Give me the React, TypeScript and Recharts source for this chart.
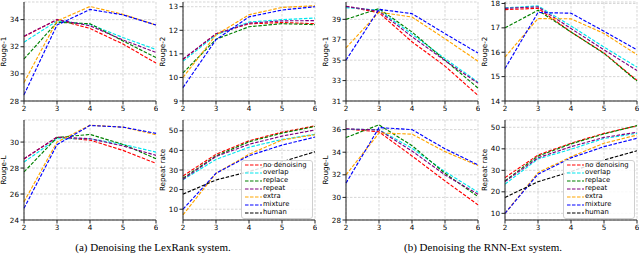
import React from 'react';
import { LineChart, Line, XAxis, YAxis, CartesianGrid, Legend } from 'recharts';

const xs = [2, 3, 4, 5, 6];
const seriesNames = ['no denoising', 'overlap', 'replace', 'repeat', 'extra', 'mixture', 'human'];
const seriesColors = ['#ff0000', '#00e5ee', '#008000', '#800080', '#ffa500', '#0000ff', '#000000'];

// rows ordered as seriesNames
const lexRouge1 = [
  [32.75, 34.0, 33.35, 32.2, 30.8],
  [32.34, 33.9, 33.65, 32.68, 31.8],
  [31.1, 33.8, 33.7, 32.43, 31.2],
  [32.78, 34.0, 33.55, 32.5, 31.58],
  [29.36, 33.9, 34.97, 34.39, 33.6],
  [28.46, 33.6, 34.75, 34.35, 33.6],
];
const lexRouge2 = [
  [10.76, 11.85, 12.27, 12.33, 12.28],
  [10.69, 11.8, 12.35, 12.45, 12.52],
  [10.19, 11.62, 12.15, 12.28, 12.24],
  [10.78, 11.85, 12.3, 12.4, 12.41],
  [10.0, 11.8, 12.66, 12.97, 13.04],
  [9.57, 11.6, 12.57, 12.86, 13.0],
];
const lexRougeL = [
  [28.7, 30.38, 30.15, 29.36, 28.36],
  [28.46, 30.26, 30.26, 29.82, 29.23],
  [27.7, 30.35, 30.59, 29.82, 28.72],
  [28.72, 30.38, 30.26, 29.7, 28.98],
  [25.4, 30.0, 31.3, 31.15, 30.57],
  [24.9, 29.8, 31.28, 31.15, 30.67],
];
const lexRepeat = [
  [26.97, 38.0, 44.9, 49.3, 52.5],
  [25.0, 35.4, 41.6, 45.6, 48.2],
  [25.8, 37.2, 44.4, 48.8, 52.2],
  [25.3, 36.9, 43.1, 47.3, 50.4],
  [7.1, 28.3, 38.0, 45.3, 48.0],
  [10.0, 28.3, 37.3, 42.7, 46.8],
  [17.7, 24.9, 29.2, 34.2, 39.3],
];
const rnnRouge1 = [
  [40.27, 39.65, 36.8, 34.42, 31.55],
  [40.15, 39.9, 37.55, 35.15, 32.85],
  [39.0, 40.05, 37.76, 35.0, 32.27],
  [40.27, 39.8, 37.3, 34.95, 32.75],
  [36.2, 39.7, 39.23, 37.1, 34.9],
  [35.0, 39.98, 39.56, 37.6, 35.7],
];
const rnnRouge2 = [
  [17.75, 17.8, 16.83, 15.97, 14.84],
  [17.82, 17.9, 17.08, 16.21, 15.39],
  [17.0, 17.72, 16.83, 15.95, 14.82],
  [17.8, 17.86, 16.97, 16.1, 15.25],
  [15.8, 17.38, 17.37, 16.77, 15.9],
  [15.33, 17.63, 17.6, 16.86, 16.1],
];
const rnnRougeL = [
  [36.06, 35.8, 33.67, 31.46, 29.34],
  [36.03, 36.0, 34.35, 32.28, 30.46],
  [35.3, 36.42, 34.58, 32.13, 30.07],
  [36.06, 35.97, 34.1, 31.99, 30.28],
  [32.0, 35.7, 35.6, 34.05, 32.82],
  [31.26, 36.18, 36.0, 34.3, 32.88],
];
const rnnRepeat = [
  [26.6, 37.1, 42.6, 47.2, 50.7],
  [23.6, 35.3, 39.8, 44.8, 47.2],
  [25.1, 36.6, 42.3, 46.9, 50.8],
  [24.8, 35.8, 41.0, 45.3, 47.7],
  [10.0, 28.9, 36.3, 42.6, 46.4],
  [10.0, 28.2, 35.8, 41.0, 44.9],
  [17.4, 24.7, 29.4, 34.8, 39.1],
];

const rougeTicks1 = [28, 30, 32, 34];
const rougeTicks2 = [9, 10, 11, 12, 13];
const rougeTicksL = [24, 26, 28, 30];
const repeatTicksLex = [10, 20, 30, 40, 50];
const rnnTicks1 = [31, 33, 35, 37, 39];
const rnnTicks2 = [14, 15, 16, 17, 18];
const rnnTicksL = [28, 30, 32, 34, 36];
const repeatTicksRnn = [10, 20, 30, 40, 50];

const YW = 24;
const PLOT_W = 132;
const MT = 2;
const MR = 2;
const XH = 16;
const FONT = 'DejaVu Sans';
const ROW_H = 7.9;

const makeYLabel = (text: string) => (props: any) => {
  const vb = props.viewBox || {};
  const cx = (vb.x || 0) + (vb.width || YW) - 21;
  const cy = (vb.y || 0) + (vb.height || 0) / 2;
  return (
    <text
      x={cx}
      y={cy}
      transform={`rotate(-90, ${cx}, ${cy})`}
      textAnchor="middle"
      dominantBaseline="central"
      fontSize={7.2}
      fontFamily={FONT}
      fill="#000"
    >
      {text}
    </text>
  );
};

const renderLegend = (props: any) => {
  const payload = [...(props.payload || [])].sort(
    (a: any, b: any) => seriesNames.indexOf(a.value) - seriesNames.indexOf(b.value)
  );
  return (
    <div
      style={{
        border: '1px solid #cfcfcf',
        borderRadius: 3,
        background: 'rgba(255,255,255,0.85)',
        padding: '1px 3px 1px 3px',
        fontFamily: FONT,
        fontSize: 6.8,
        lineHeight: `${ROW_H}px`,
        boxSizing: 'border-box',
        width: 72,
      }}
    >
      {payload.map((e: any) => (
        <div key={e.value} style={{ display: 'flex', alignItems: 'center', height: ROW_H, whiteSpace: 'nowrap' }}>
          <svg width={17} height={4} style={{ display: 'block' }}>
            <line x1={0} y1={2} x2={17} y2={2} stroke={e.color} strokeWidth={1.2} strokeDasharray="3.5 1.5" />
          </svg>
          <span style={{ marginLeft: 1, color: '#000' }}>{e.value}</span>
        </div>
      ))}
    </div>
  );
};

type PanelProps = {
  left: number;
  top: number;
  plotH: number;
  rows: number[][];
  domain: [number, number];
  ticks: number[];
  ylabel: string;
  legend?: boolean;
};

function Panel({ left, top, plotH, rows, domain, ticks, ylabel, legend }: PanelProps) {
  const data = xs.map((x, i) => {
    const r: any = { x };
    rows.forEach((vals, k) => {
      r['s' + k] = vals[i];
    });
    return r;
  });
  const W = YW + PLOT_W + MR;
  const H = MT + plotH + XH;
  const tickStyle = { fontSize: 7.2, fill: '#000', fontFamily: FONT };
  return (
    <div style={{ position: 'absolute', left: left - YW, top: top - MT }}>
      <LineChart width={W} height={H} data={data} margin={{ top: MT, right: MR, left: 0, bottom: 0 }}>
        <CartesianGrid stroke="#c4c4c4" strokeDasharray="2.5 1.5" strokeWidth={0.7} />
        <XAxis
          dataKey="x"
          type="number"
          domain={[2, 6]}
          ticks={xs}
          interval={0}
          height={XH}
          tickSize={3.5}
          tickMargin={1}
          tick={tickStyle}
          stroke="#222"
        />
        <XAxis xAxisId="t" orientation="top" dataKey="x" type="number" domain={[2, 6]} height={0} tick={false} tickLine={false} stroke="#222" />
        <YAxis
          type="number"
          domain={domain}
          ticks={ticks}
          interval={0}
          width={YW}
          tickSize={3.5}
          tickMargin={1.5}
          tick={tickStyle}
          stroke="#222"
          allowDataOverflow
          label={{ content: makeYLabel(ylabel) }}
        />
        <YAxis yAxisId="r" orientation="right" type="number" domain={[0, 1]} width={0} tick={false} tickLine={false} stroke="#222" />
        {rows.map((_, k) => (
          <Line
            key={k}
            type="linear"
            dataKey={'s' + k}
            name={seriesNames[k]}
            stroke={seriesColors[k]}
            strokeWidth={1.15}
            strokeDasharray="3.5 1.6"
            dot={false}
            activeDot={false}
            isAnimationActive={false}
          />
        ))}
        {legend ? (
          <Legend
            layout="horizontal"
            verticalAlign="middle"
            align="center"
            itemSorter={null as any}
            content={renderLegend}
            wrapperStyle={{ position: 'absolute', left: 82, top: 41.5, width: 72, height: 58 }}
          />
        ) : null}
      </LineChart>
    </div>
  );
}

const captionStyle: React.CSSProperties = {
  position: 'absolute',
  top: 241,
  width: 300,
  textAlign: 'center',
  fontFamily: '"Liberation Serif", "Times New Roman", serif',
  fontSize: 11,
  lineHeight: '13px',
  color: '#000',
};

export default function App() {
  return (
    <div style={{ position: 'absolute', left: 0, top: 0, width: 640, height: 257, background: '#fff', overflow: 'hidden' }}>
      <Panel left={24} top={2} plotH={99} rows={lexRouge1} domain={[28, 35.3]} ticks={rougeTicks1} ylabel="Rouge-1" />
      <Panel left={183} top={2} plotH={99} rows={lexRouge2} domain={[9, 13.2]} ticks={rougeTicks2} ylabel="Rouge-2" />
      <Panel left={24} top={120} plotH={100} rows={lexRougeL} domain={[24, 31.7]} ticks={rougeTicksL} ylabel="Rouge-L" />
      <Panel left={183} top={120} plotH={100} rows={lexRepeat} domain={[4.5, 55.5]} ticks={repeatTicksLex} ylabel="Repeat rate" legend />
      <Panel left={346} top={2} plotH={99} rows={rnnRouge1} domain={[31, 40.7]} ticks={rnnTicks1} ylabel="Rouge-1" />
      <Panel left={505} top={2} plotH={99} rows={rnnRouge2} domain={[14, 18.06]} ticks={rnnTicks2} ylabel="Rouge-2" />
      <Panel left={346} top={120} plotH={100} rows={rnnRougeL} domain={[28, 36.85]} ticks={rnnTicksL} ylabel="Rouge-L" />
      <Panel left={505} top={120} plotH={100} rows={rnnRepeat} domain={[6.9, 53.4]} ticks={repeatTicksRnn} ylabel="Repeat rate" legend />
      <div style={{ ...captionStyle, left: 153 - 150 }}>(a) Denoising the LexRank system.</div>
      <div style={{ ...captionStyle, left: 483 - 150 }}>(b) Denoising the RNN-Ext system.</div>
    </div>
  );
}
